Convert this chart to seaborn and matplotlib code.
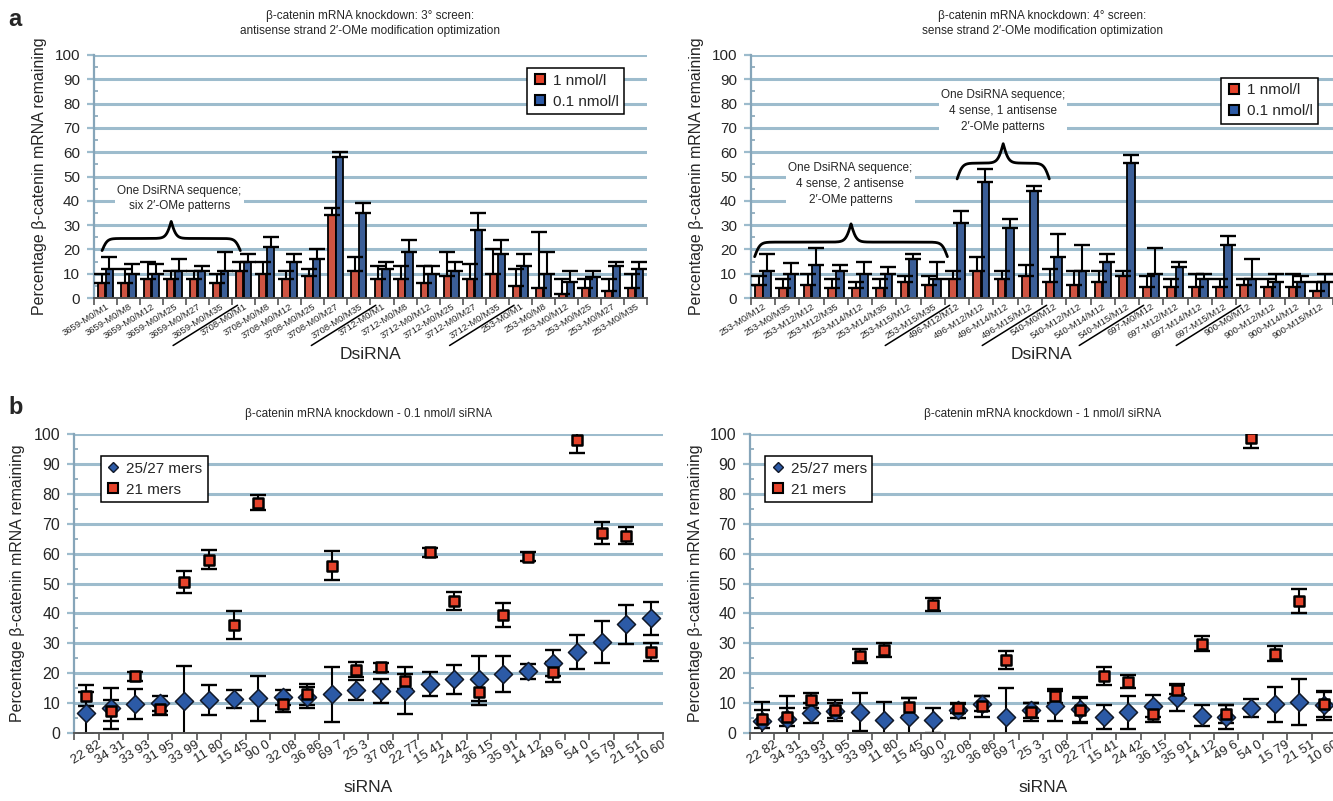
import numpy as np
import pandas as pd
import matplotlib
matplotlib.use("Agg")
import matplotlib.pyplot as plt
import matplotlib.transforms as mtransforms
from matplotlib.lines import Line2D
import seaborn as sns

sns.set_theme(style="white")
plt.rcParams['font.family'] = ['Liberation Sans', 'DejaVu Sans']

RED = '#e6432b'
BLUE = '#2c5aa6'
GRID = '#9dbccd'
AXIS_BLUE = '#86a5b9'
AXIS_DARK = '#555555'

# ---------------- panel a (left): 3° screen ----------------
screen3_labels = [
    "3659-M0/M1", "3659-M0/M8", "3659-M0/M12", "3659-M0/M25", "3659-M0/M27", "3659-M0/M35",
    "3708-M0/M1", "3708-M0/M8", "3708-M0/M12", "3708-M0/M25", "3708-M0/M27", "3708-M0/M35",
    "3712-M0/M1", "3712-M0/M8", "3712-M0/M12", "3712-M0/M25", "3712-M0/M27", "3712-M0/M35",
    "253-M0/M1", "253-M0/M8", "253-M0/M12", "253-M0/M25", "253-M0/M27", "253-M0/M35",
]
screen3_1nM = [6, 6, 8, 8, 8, 6, 11, 10, 8, 9, 34, 11, 8, 8, 6, 9, 8, 10, 5, 4, 1.5, 4, 3, 4]
screen3_1nM_err = [4, 6, 7, 3, 3, 4, 4, 5, 3, 3, 3, 6, 5, 5, 7, 10, 6, 10, 7, 23, 6.5, 4, 5, 6]
screen3_01nM = [12, 10, 10, 11, 11, 11, 15, 21, 15, 16, 58, 35, 12, 19, 10, 11, 28, 18, 13, 10, 6.5, 8.5, 13, 12]
screen3_01nM_err = [5, 4, 4, 5, 2, 8, 3, 4, 3, 4, 2, 4, 3, 5, 3, 4, 7, 6, 5, 9, 4.5, 2.5, 2, 3]
screen3_group_ends = [5, 11, 17]

# ---------------- panel a (right): 4° screen ----------------
screen4_labels = [
    "253-M0/M12", "253-M0/M35", "253-M12/M12", "253-M12/M35",
    "253-M14/M12", "253-M14/M35", "253-M15/M12", "253-M15/M35",
    "496-M12/M12", "496-M12/M12", "496-M14/M12", "496-M15/M12",
    "540-M0/M12", "540-M12/M12", "540-M14/M12", "540-M15/M12",
    "697-M0/M12", "697-M12/M12", "697-M14/M12", "697-M15/M12",
    "900-M0/M12", "900-M12/M12", "900-M14/M12", "900-M15/M12",
]
screen4_1nM = [5.4, 4, 5.5, 4, 4, 4, 6.5, 5.4, 7.8, 11, 7.8, 9, 6.7, 5.5, 6.5, 9,
               4.4, 4.4, 4.4, 4.4, 5.5, 4.4, 4.4, 3]
screen4_1nM_err = [3.6, 4, 4.5, 4, 2.7, 4, 2.5, 3.6, 3.2, 6, 3.2, 4.6, 5.3, 5.5, 4.5, 2,
                   4.6, 3.6, 5.6, 3.6, 2.5, 3.6, 5.6, 3.7]
screen4_01nM = [11, 10, 13.6, 11, 10, 10, 16, 7.8, 31, 47.7, 29, 44, 17, 11, 14.7, 55.5,
                10, 12.6, 7.8, 21.8, 7.8, 6.7, 6.7, 6.7]
screen4_01nM_err = [7, 4.5, 6.9, 2.5, 4.7, 2.6, 2, 6.9, 5, 5.3, 3.5, 2, 9.4, 10.8, 3.3, 3.5,
                    10.6, 2.1, 2.2, 3.6, 8.2, 3.3, 2.3, 3.3]
screen4_group_ends = [7, 11, 15, 19]

# ---------------- panel b: siRNA comparison ----------------
sirna_labels = ["22 82", "34 31", "33 93", "31 95", "33 99", "11 80", "15 45", "90 0",
                "32 08", "36 86", "69 7", "25 3", "37 08", "22 77", "15 41", "24 42",
                "36 15", "35 91", "14 12", "49 6", "54 0", "15 79", "21 51", "10 60"]

mers2527_01nM = [6.8, 8.2, 9.6, 10, 10.7, 11, 11.4, 11.6, 12, 12, 12.9, 14.3, 14.2, 14.2,
                 16.5, 17.9, 18.2, 19.7, 20.6, 23.4, 27.2, 30.3, 36.3, 38.3]
mers2527_01nM_sd = [7, 7, 5, 2.5, 11.7, 5, 3, 7.5, 2.5, 3.5, 9.3, 3.3, 4, 8, 4, 5, 7.5, 6,
                    2.5, 4.5, 5.7, 7, 6.5, 5.5]
mers21_01nM = [12.5, 7.5, 19, 8, 50.5, 58, 36, 77, 9.6, 13, 56, 21.2, 22, 17.3, 60.5, 44,
               13.7, 39.4, 59, 20.4, 98, 67, 66, 27.2]
mers21_01nM_sd = [3.5, 3.5, 1.5, 2, 3.8, 3.3, 4.7, 2.5, 2.5, 3.5, 4.8, 2.5, 1.5, 2.5, 1.5, 3,
                  4.5, 4, 1.5, 3.5, 4.5, 3.7, 2.8, 3]

mers2527_1nM = [4, 4.8, 6.8, 7.4, 7, 4.3, 5.2, 4.3, 7.6, 9.8, 5.2, 7.6, 9, 7.9, 5.2, 7, 9,
                11.8, 5.7, 5.2, 8.5, 9.6, 10.4, 9.2]
mers2527_1nM_sd = [6.5, 7.5, 3.3, 3.5, 6.3, 6, 6.5, 4.2, 2.5, 2.5, 10, 2.5, 5, 4.2, 4, 5.5,
                   3.7, 4.5, 3.5, 4, 3, 5.8, 7.8, 5]
mers21_1nM = [4.8, 5.2, 11, 7.6, 25.8, 27.8, 8.8, 42.9, 8.3, 9, 24.3, 7, 12.3, 7.6, 19, 17.2,
              6.3, 14.5, 29.8, 6.3, 98.5, 26.5, 44, 9.6]
mers21_1nM_sd = [3, 3, 2.5, 2.5, 2.4, 2.3, 3, 2.2, 1.5, 3.5, 3, 3, 2.3, 4.2, 3, 2.3, 2.5, 1.5,
                 2.5, 3, 3.2, 2.5, 4, 4.2]

YLABEL = "Percentage \u03b2-catenin mRNA remaining"

W, H = 1333, 801
fig = plt.figure(figsize=(W / 100, H / 100), dpi=100)
fig.patch.set_facecolor('white')

BAR_LABEL_ROT = 32


def px_rect(left, top, right, bottom):
    return [left / W, 1 - bottom / H, (right - left) / W, (bottom - top) / H]


def style_axes(ax, n, xlabel, xlab_y, ylab_x, ytick_size, ytick_pad):
    ax.set_ylim(0, 100)
    ax.set_xlim(-0.5, n - 0.5)
    ax.set_yticks(np.arange(0, 101, 10))
    ax.set_yticks(np.arange(5, 100, 10), minor=True)
    ax.grid(axis='y', which='major', color=GRID, lw=2.2)
    ax.grid(axis='x', visible=False)
    ax.set_axisbelow(True)
    for s in ['top', 'right']:
        ax.spines[s].set_visible(False)
    ax.spines['left'].set_color(AXIS_BLUE)
    ax.spines['left'].set_linewidth(1.6)
    ax.spines['bottom'].set_color(AXIS_DARK)
    ax.spines['bottom'].set_linewidth(1.4)
    ax.tick_params(axis='y', which='major', left=True, length=5, width=1.6, color=GRID,
                   labelsize=ytick_size, pad=ytick_pad, direction='out')
    ax.tick_params(axis='y', which='minor', left=True, length=3, width=1.2, color=AXIS_BLUE,
                   direction='in')
    ax.set_xticks(np.arange(-0.5, n), minor=True)
    ax.tick_params(axis='x', which='major', length=0)
    ax.tick_params(axis='x', which='minor', bottom=True, length=5, width=1.2, color=AXIS_DARK,
                   direction='out')
    ax.set_xlabel(xlabel, fontsize=12.5)
    ax.xaxis.set_label_coords(0.5, xlab_y)
    ax.set_ylabel(YLABEL, fontsize=11.5)
    ax.yaxis.set_label_coords(ylab_x, 0.5)


def draw_brace(ax, x0, x1, y_plateau, drop, rise, beta=9.0):
    xs = np.linspace(x0, x1, 401)
    half = (x1 - x0) / 2
    t = xs[:201] - x0
    s1 = 1 / (1 + np.exp(-beta * t))
    s2 = 1 / (1 + np.exp(-beta * (t - half)))
    yh = y_plateau - 2 * drop * (1 - s1) + 2 * rise * s2
    ys = np.concatenate([yh, yh[-2::-1]])
    ax.plot(xs, ys, color='black', lw=2.0, solid_capstyle='round', zorder=4)


def group_underline(ax, i, length=64, below=12.5, beyond=12, pad=3):
    # a rule drawn parallel to, and just beneath, a rotated tick label
    a = np.deg2rad(BAR_LABEL_ROT)
    d = np.array([-np.cos(a), -np.sin(a)])   # along the label, towards its start
    nrm = np.array([np.sin(a), -np.cos(a)])  # perpendicular, below the text
    origin = np.array([0.0, -pad]) + below * nrm
    start = origin + length * d
    end = origin - beyond * d
    base = mtransforms.blended_transform_factory(ax.transData, ax.transAxes)
    p_end = mtransforms.offset_copy(base, fig=fig, x=end[0], y=end[1], units='dots')
    p_start = mtransforms.offset_copy(base, fig=fig, x=start[0], y=start[1], units='dots')
    ax.annotate('', xy=(i, 0), xycoords=p_end, xytext=(i, 0), textcoords=p_start,
                arrowprops=dict(arrowstyle='-', lw=1.1, color='black', shrinkA=0, shrinkB=0),
                annotation_clip=False)


def bar_panel(ax, labels, v1, e1, v01, e01, title):
    n = len(labels)
    df = pd.DataFrame({
        "idx": np.tile(np.arange(n), 2),
        "value": np.concatenate([v1, v01]),
        "dose": ["1 nmol/l"] * n + ["0.1 nmol/l"] * n,
    })
    sns.barplot(data=df, x="idx", y="value", hue="dose", hue_order=["1 nmol/l", "0.1 nmol/l"],
                palette=[RED, BLUE], width=0.68, gap=0.08, edgecolor='black', linewidth=1.3,
                errorbar=None, legend=False, ax=ax, zorder=2)
    for container, errs in zip(ax.containers, [e1, e01]):
        xs = [p.get_x() + p.get_width() / 2 for p in container]
        ys = [p.get_height() for p in container]
        ax.errorbar(xs, ys, yerr=[np.zeros(n), errs], fmt='none', ecolor='black',
                    elinewidth=1.5, capsize=5.5, capthick=1.7, zorder=3)
    ax.set_xticks(np.arange(n))
    ax.set_xticklabels(labels, rotation=BAR_LABEL_ROT, ha='right', rotation_mode='anchor',
                       fontsize=6.8)
    ax.tick_params(axis='x', which='major', pad=3)
    ax.set_title(title, fontsize=8.5, pad=15, linespacing=1.35)
    handles = [Line2D([], [], ls='', marker='s', markersize=7, markerfacecolor=c,
                      markeredgecolor='black', markeredgewidth=1.5, label=l)
               for c, l in [(RED, "1 nmol/l"), (BLUE, "0.1 nmol/l")]]
    return handles


def point_panel(ax, long_v, long_sd, short_v, short_sd, title):
    n = len(sirna_labels)
    df = pd.DataFrame({
        "pos": np.tile(np.arange(n), 2),
        "value": np.concatenate([long_v, short_v]),
        "kind": ["25/27 mers"] * n + ["21 mers"] * n,
    })
    ax.errorbar(np.arange(n), long_v, yerr=long_sd, fmt='none', ecolor='black', elinewidth=1.5,
                capsize=5.5, capthick=1.7, zorder=2)
    ax.errorbar(np.arange(n), short_v, yerr=short_sd, fmt='none', ecolor='black', elinewidth=1.5,
                capsize=5.5, capthick=1.7, zorder=2)
    sns.scatterplot(data=df[df.kind == "25/27 mers"], x="pos", y="value", marker='D', s=85,
                    color=BLUE, edgecolor='#101828', linewidth=1.1, ax=ax, zorder=3, legend=False)
    sns.scatterplot(data=df[df.kind == "21 mers"], x="pos", y="value", marker='s', s=48,
                    color=RED, edgecolor='black', linewidth=1.8, ax=ax, zorder=4, legend=False)
    ax.set_xticks(np.arange(n))
    ax.set_xticklabels(sirna_labels, rotation=32, ha='center', fontsize=9.5)
    ax.tick_params(axis='x', which='major', pad=4)
    ax.set_title(title, fontsize=8.5, pad=12)
    handles = [
        Line2D([], [], ls='', marker='D', markersize=5, markerfacecolor=BLUE,
               markeredgecolor='#101828', markeredgewidth=1.0, label="25/27 mers"),
        Line2D([], [], ls='', marker='s', markersize=7, markerfacecolor=RED,
               markeredgecolor='black', markeredgewidth=1.5, label="21 mers"),
    ]
    return handles


def framed_legend(ax, handles, loc, anchor):
    leg = ax.legend(handles=handles, loc=loc, bbox_to_anchor=anchor, frameon=True,
                    fancybox=False, framealpha=1, edgecolor='black', fontsize=11,
                    handletextpad=0.35, handlelength=1.0, borderpad=0.35, labelspacing=0.45,
                    borderaxespad=0)
    leg.get_frame().set_linewidth(1.1)
    leg.set_zorder(6)


# ---- panel a, left ----
ax1 = fig.add_axes(px_rect(94, 55, 647, 298))
h = bar_panel(ax1, screen3_labels, screen3_1nM, screen3_1nM_err, screen3_01nM, screen3_01nM_err,
              "\u03b2-catenin mRNA knockdown: 3\u00b0 screen:\n"
              "antisense strand 2\u2032-OMe modification optimization")
style_axes(ax1, len(screen3_labels), "DsiRNA", -0.2, -0.085, 11, 5)
framed_legend(ax1, h, 'upper right', (0.958, 0.945))
draw_brace(ax1, -0.15, 5.85, 24.5, 5, 7)
ax1.text(3.2, 41, "One DsiRNA sequence;\nsix 2\u2032-OMe patterns", ha='center', va='center',
         fontsize=8.5, linespacing=1.3, zorder=5,
         bbox=dict(facecolor='white', edgecolor='none', pad=1.5))
for i in screen3_group_ends:
    group_underline(ax1, i)

# ---- panel a, right ----
ax2 = fig.add_axes(px_rect(751, 55, 1333, 298))
h = bar_panel(ax2, screen4_labels, screen4_1nM, screen4_1nM_err, screen4_01nM, screen4_01nM_err,
              "\u03b2-catenin mRNA knockdown: 4\u00b0 screen:\n"
              "sense strand 2\u2032-OMe modification optimization")
style_axes(ax2, len(screen4_labels), "DsiRNA", -0.2, -0.08, 11, 5)
framed_legend(ax2, h, 'upper right', (0.975, 0.905))
draw_brace(ax2, -0.35, 7.6, 23, 6, 7.5)
draw_brace(ax2, 8.0, 11.8, 55.5, 6.5, 8)
ax2.text(3.6, 47, "One DsiRNA sequence;\n4 sense, 2 antisense\n2\u2032-OMe patterns",
         ha='center', va='center', fontsize=8.5, linespacing=1.45, zorder=5,
         bbox=dict(facecolor='white', edgecolor='none', pad=1.5))
ax2.text(9.9, 77, "One DsiRNA sequence;\n4 sense, 1 antisense\n2\u2032-OMe patterns",
         ha='center', va='center', fontsize=8.5, linespacing=1.45, zorder=5,
         bbox=dict(facecolor='white', edgecolor='none', pad=1.5))
for i in screen4_group_ends:
    group_underline(ax2, i)

# ---- panel b, left ----
ax3 = fig.add_axes(px_rect(74, 434, 663, 733))
h = point_panel(ax3, mers2527_01nM, mers2527_01nM_sd, mers21_01nM, mers21_01nM_sd,
                "\u03b2-catenin mRNA knockdown - 0.1 nmol/l siRNA")
style_axes(ax3, len(sirna_labels), "siRNA", -0.157, -0.083, 11.5, 5)
framed_legend(ax3, h, 'upper left', (0.045, 0.925))

# ---- panel b, right ----
ax4 = fig.add_axes(px_rect(750, 434, 1336, 733))
h = point_panel(ax4, mers2527_1nM, mers2527_1nM_sd, mers21_1nM, mers21_1nM_sd,
                "\u03b2-catenin mRNA knockdown - 1 nmol/l siRNA")
style_axes(ax4, len(sirna_labels), "siRNA", -0.157, -0.08, 11.5, 5)
framed_legend(ax4, h, 'upper left', (0.025, 0.925))

fig.text(8 / W, 1 - 20 / H, "a", fontsize=17, fontweight='bold', va='center')
fig.text(8 / W, 1 - 408 / H, "b", fontsize=17, fontweight='bold', va='center')

fig.savefig("out.png", dpi=100, facecolor='white')
